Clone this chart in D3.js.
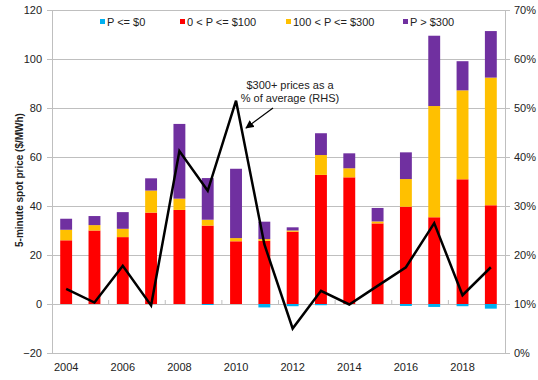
<!DOCTYPE html>
<html>
<head>
<meta charset="utf-8">
<script src="https://cdn.jsdelivr.net/npm/d3@7"></script>
<style>
  body { margin: 0; background: #fff; }
  svg { display: block; font-family: Arial, "Liberation Sans", sans-serif; }
</style>
</head>
<body>
<svg id="chart" width="538" height="380"></svg>
<script>
// data
const years = [2004, 2005, 2006, 2007, 2008, 2009, 2010, 2011, 2012, 2013, 2014, 2015, 2016, 2017, 2018, 2019];
const negative = [0, 0, 0, 0, 0, -0.4, 0, -1.4, -0.9, -0.5, 0, 0, -0.8, -1.2, -0.9, -1.9];
const upTo100 = [26, 30, 27.3, 37.3, 38.4, 32, 25.6, 25.8, 29.5, 52.7, 51.7, 32.9, 39.7, 35.4, 50.9, 40.3];
const upTo300 = [4.3, 2.2, 3.4, 9, 4.6, 2.4, 1.3, 0.7, 0.5, 8.1, 3.7, 0.8, 11.3, 45.4, 36.3, 52.1];
const over300 = [4.5, 3.7, 6.8, 5, 30.5, 17, 28.3, 7.1, 1.3, 8.9, 6.1, 5.5, 10.9, 28.7, 11.9, 19];
const share300 = [13.1, 10.3, 17.8, 9.7, 41.2, 33.1, 51.5, 22.2, 5.0, 12.7, 9.9, 13.7, 17.5, 26.5, 11.8, 17.5];

const seriesNames = ["P <= $0", "0 < P <= $100", "100 < P <= $300", "P > $300"];
const seriesColors = ["#00b0f0", "#ff0000", "#ffc000", "#7030a0"];
const leftTicks = [-20, 0, 20, 40, 60, 80, 100, 120];
const rightTicks = [0, 10, 20, 30, 40, 50, 60, 70];

const plotL = 52, plotR = 505, plotT = 10, plotB = 353;

const svg = d3.select("#chart");

var x = d3.scaleBand()
  .domain(years)
  .range([plotL, plotR])
  .paddingInner(0.58)
  .paddingOuter(0.29);

var y = d3.scaleLinear().domain([-20, 120]).range([plotB, plotT]);
var yR = d3.scaleLinear().domain([0, 70]).range([plotB, plotT]);

// gridlines
svg.append("g")
  .selectAll("line")
  .data(leftTicks)
  .enter().append("line")
  .attr("x1", plotL).attr("x2", plotR)
  .attr("y1", d => y(d)).attr("y2", d => y(d))
  .attr("stroke", "#bfbfbf")
  .attr("stroke-width", 1)
  .attr("shape-rendering", "crispEdges");

// left axis
var yAxis = svg.append("g")
  .attr("transform", `translate(${plotL},0)`)
  .call(d3.axisLeft(y).tickValues(leftTicks).tickSize(5).tickPadding(5));
yAxis.select(".domain").attr("stroke", "#bfbfbf");
yAxis.selectAll(".tick line").attr("stroke", "#bfbfbf");
yAxis.selectAll("text").attr("font-size", 11).attr("fill", "#222")
  .attr("font-family", "Arial, 'Liberation Sans', sans-serif");

// right axis
var yAxisR = svg.append("g")
  .attr("transform", `translate(${plotR},0)`)
  .call(d3.axisRight(yR).tickValues(rightTicks).tickSize(5).tickPadding(4).tickFormat(d => d + "%"));
yAxisR.select(".domain").attr("stroke", "#bfbfbf");
yAxisR.selectAll(".tick line").attr("stroke", "#bfbfbf");
yAxisR.selectAll("text").attr("font-size", 11).attr("fill", "#222")
  .attr("font-family", "Arial, 'Liberation Sans', sans-serif");

// category tick marks on the zero line, every second boundary
var step = x.step();
svg.append("g")
  .selectAll("line")
  .data(d3.range(2, years.length, 2))
  .enter().append("line")
  .attr("x1", i => plotL + i * step).attr("x2", i => plotL + i * step)
  .attr("y1", y(0) - 4).attr("y2", y(0))
  .attr("stroke", "#bfbfbf");

// x labels, even years only
svg.append("g")
  .selectAll("text")
  .data(years.filter(d => d % 2 === 0))
  .enter().append("text")
  .attr("x", d => x(d) + x.bandwidth() / 2)
  .attr("y", 371)
  .attr("text-anchor", "middle")
  .attr("font-size", 11)
  .attr("fill", "#222")
  .text(d => d);

// stacked bars
var rows = years.map((yr, i) => ({
  year: yr,
  neg: negative[i],
  a: upTo100[i],
  b: upTo300[i],
  c: over300[i]
}));

var stack = d3.stack().keys(["a", "b", "c"])(rows);

var bars = svg.append("g");

bars.selectAll(".neg")
  .data(rows)
  .enter().append("rect")
  .attr("class", "neg")
  .attr("x", d => x(d.year))
  .attr("width", x.bandwidth())
  .attr("y", y(0))
  .attr("height", d => y(d.neg) - y(0))
  .attr("fill", seriesColors[0]);

stack.forEach(function(layer, k) {
  bars.selectAll(".layer" + k)
    .data(layer)
    .enter().append("rect")
    .attr("class", "layer" + k)
    .attr("x", d => x(d.data.year))
    .attr("width", x.bandwidth())
    .attr("y", d => y(d[1]))
    .attr("height", d => y(d[0]) - y(d[1]))
    .attr("fill", seriesColors[k + 1]);
});

// line on the right axis
var line = d3.line()
  .x((d, i) => x(years[i]) + x.bandwidth() / 2)
  .y(d => yR(d));

svg.append("path")
  .datum(share300)
  .attr("d", line)
  .attr("fill", "none")
  .attr("stroke", "#000")
  .attr("stroke-width", 2.5)
  .attr("stroke-linejoin", "miter");

// legend
var legendX = [100, 180, 286, 403];
var legend = svg.append("g");
seriesNames.forEach(function(name, i) {
  legend.append("rect")
    .attr("x", legendX[i]).attr("y", 19)
    .attr("width", 5).attr("height", 5)
    .attr("fill", seriesColors[i]);
  legend.append("text")
    .attr("x", legendX[i] + 7).attr("y", 26)
    .attr("font-size", 11)
    .attr("fill", "#222")
    .text(name);
});

// y axis title
svg.append("text")
  .attr("transform", "translate(23,180) rotate(-90)")
  .attr("text-anchor", "middle")
  .attr("font-size", 10)
  .attr("font-weight", "bold")
  .attr("fill", "#222")
  .text("5-minute spot price ($/MWh)");

// annotation
var note = svg.append("text")
  .attr("text-anchor", "middle")
  .attr("font-size", 11)
  .attr("fill", "#222");
note.append("tspan").attr("x", 290).attr("y", 89).text("$300+ prices as a");
note.append("tspan").attr("x", 290).attr("y", 102).text("% of average (RHS)");

svg.append("defs").append("marker")
  .attr("id", "arrow")
  .attr("viewBox", "0 0 10 10")
  .attr("refX", 9).attr("refY", 5)
  .attr("markerWidth", 7).attr("markerHeight", 7)
  .attr("orient", "auto")
  .append("path")
  .attr("d", "M0,0L10,5L0,10z")
  .attr("fill", "#000");

svg.append("line")
  .attr("x1", 273).attr("y1", 108)
  .attr("x2", 246).attr("y2", 128)
  .attr("stroke", "#000")
  .attr("stroke-width", 1.2)
  .attr("marker-end", "url(#arrow)");
</script>
</body>
</html>
